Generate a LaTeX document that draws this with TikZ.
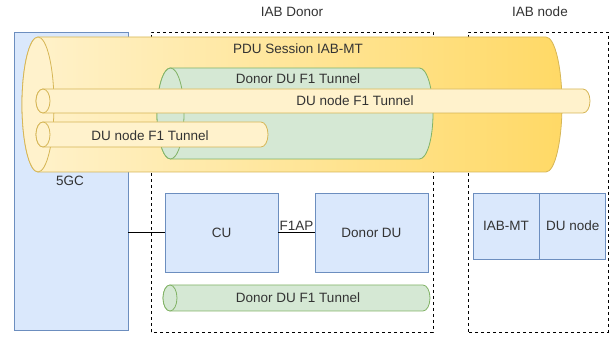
\documentclass[tikz,border=0pt]{standalone}
\usepackage{fontspec}
\setmainfont{Liberation Sans}
\usepackage{tikz}
\usetikzlibrary{positioning}

\definecolor{bluefill}{HTML}{DAE8FC}
\definecolor{bluedraw}{HTML}{6C8EBF}
\definecolor{greenfill}{HTML}{D5E8D4}
\definecolor{greendraw}{HTML}{82B366}
\definecolor{yellowfill}{HTML}{FFF2CC}
\definecolor{yellowdark}{HTML}{FFD966}
\definecolor{yellowdraw}{HTML}{D6B656}
\definecolor{textgray}{HTML}{333333}

\begin{document}
\begin{tikzpicture}[x=1pt, y=1pt,
        font=\fontsize{13.5}{16}\selectfont, text=textgray,
        block/.style={draw=bluedraw, fill=bluefill, thick, inner sep=0pt},
        site/.style={draw=black, dashed, thick},
        pdu/.style={draw=yellowdraw, thick, left color=yellowfill, right color=yellowdark},
        dutube/.style={draw=yellowdraw, thick, fill=yellowfill},
        donortube/.style={draw=greendraw, thick, fill=greenfill},
        link/.style={draw=black, thick}]
        \useasboundingbox (0,0) rectangle (613,337);
        % core network and the two sites
        \node[block, minimum width=114pt, minimum height=298pt] (core) at (71,156) {};
        \draw[site] (151,5) rectangle (433,305);
        \draw[site] (468,5) rectangle (608,305);
        \node (donorlabel) at (292,325) {IAB Donor};
        \node (iablabel) at (540,325) {IAB node};
        % PDU session of the IAB-MT
        \path[pdu] (38,300) -- (546,300) arc[start angle=90, end angle=-90, x radius=16pt, y radius=67.5pt]
            -- (38,165) arc[start angle=270, end angle=90, x radius=16pt, y radius=67.5pt] -- cycle;
        \draw[draw=yellowdraw, thick, fill=yellowfill] (38,232.5) ellipse[x radius=16pt, y radius=67.5pt];
        % donor DU tunnel inside the session
        \path[donortube] (170.5,269) -- (419.5,269) arc[start angle=90, end angle=-90, x radius=13.5pt, y radius=45.5pt]
            -- (170.5,178) arc[start angle=270, end angle=90, x radius=13.5pt, y radius=45.5pt] -- cycle;
        \draw[donortube] (170.5,223.5) ellipse[x radius=13.5pt, y radius=45.5pt];
        % DU node tunnels
        \path[dutube] (43,248) -- (583,248) arc[start angle=90, end angle=-90, x radius=7pt, y radius=12pt]
            -- (43,224) arc[start angle=270, end angle=90, x radius=7pt, y radius=12pt] -- cycle;
        \draw[dutube] (43,236) ellipse[x radius=7pt, y radius=12pt];
        \path[dutube] (43,215) -- (261,215) arc[start angle=90, end angle=-90, x radius=7pt, y radius=12.5pt]
            -- (43,190) arc[start angle=270, end angle=90, x radius=7pt, y radius=12.5pt] -- cycle;
        \draw[dutube] (43,202.5) ellipse[x radius=7pt, y radius=12.5pt];
        % donor DU tunnel at the bottom
        \path[donortube] (170,52) -- (423,52) arc[start angle=90, end angle=-90, x radius=7pt, y radius=13pt]
            -- (170,26) arc[start angle=270, end angle=90, x radius=7pt, y radius=13pt] -- cycle;
        \draw[donortube] (170,39) ellipse[x radius=7pt, y radius=13pt];
        % tunnel labels
        \node (pdulabel) at (298,288) {PDU Session IAB-MT};
        \node (donortunnel) at (298,258) {Donor DU F1 Tunnel};
        \node (dutunnela) at (355,236) {DU node F1 Tunnel};
        \node (dutunnelb) at (150,201) {DU node F1 Tunnel};
        \node (donortunnelb) at (298,39) {Donor DU F1 Tunnel};
        \node (corelabel) at (70,156) {5GC};
        % donor units
        \node[block, minimum width=113pt, minimum height=79pt] (cu) at (221.5,104.5) {CU};
        \node[block, minimum width=113pt, minimum height=79pt] (ddu) at (371.5,104.5) {Donor DU};
        \draw[link] (core.east |- cu.west) -- (cu.west);
        \draw[link] (cu.east) -- (ddu.west) node[midway, above, inner sep=2pt] {F1AP};
        % IAB node units
        \node[block, minimum width=66pt, minimum height=66pt] (mt) at (506,111) {IAB-MT};
        \node[block, minimum width=66pt, minimum height=66pt, right=0pt of mt] (dunode) {DU node};
\end{tikzpicture}
\end{document}
